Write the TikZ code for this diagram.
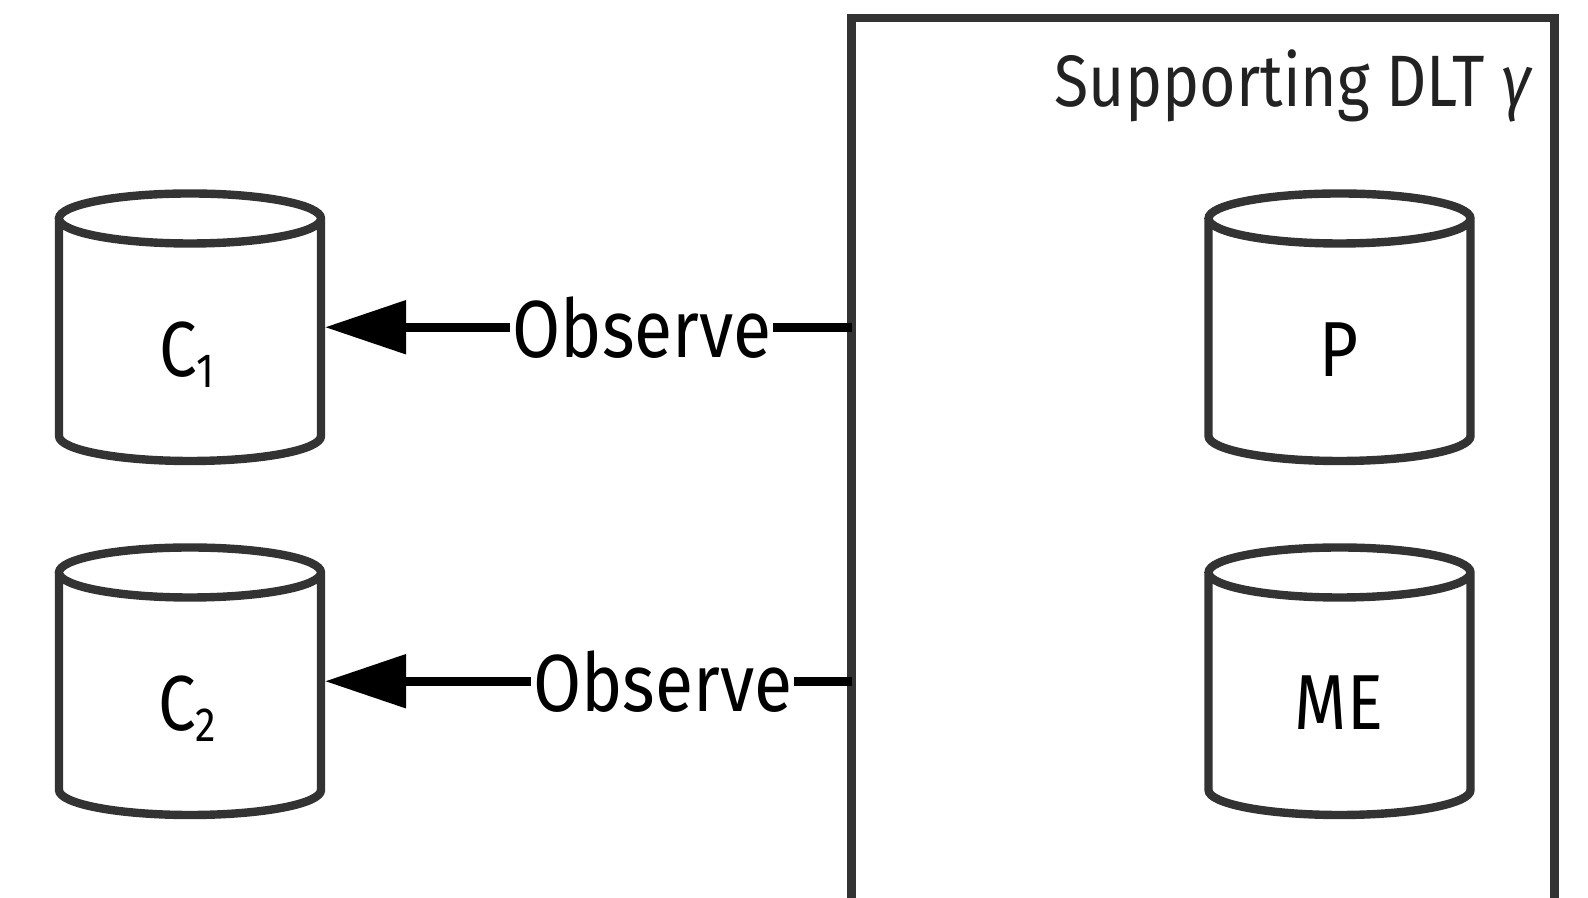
\documentclass[tikz,border=0pt]{standalone}
\usepackage{fontspec}
\usetikzlibrary{arrows.meta,calc}
\newfontfamily\labelfont{Fira Sans}[FakeStretch=0.86]
\definecolor{strokegray}{HTML}{333333}
\definecolor{inkgray}{HTML}{222222}

\newcommand\dbrx{131}
\newcommand\dbry{25}
% outline of a database cylinder around a named node
\newcommand\drawdb[1]{%
  \draw[dbline] (#1.north west) -- (#1.south west)
    arc[start angle=180,end angle=360,x radius=\dbrx,y radius=\dbry]
    -- (#1.north east)
    arc[start angle=0,end angle=360,x radius=\dbrx,y radius=\dbry];}
\newcommand\sub[1]{\raisebox{-5.5pt}{\fontsize{24}{24}\selectfont #1}}

\begin{document}
\begin{tikzpicture}[x=0.5pt,y=0.5pt,
  dbline/.style={draw=strokegray,line width=4.2pt,fill=white},
  db/.style={rectangle,inner sep=0pt,outer sep=0pt,minimum width=131pt,minimum height=108.75pt},
  dbtext/.style={anchor=base,inner sep=0pt,font=\labelfont\fontsize{39}{44}\selectfont,text=black},
  frame/.style={rectangle,draw=strokegray,line width=4.2pt,inner sep=0pt,outer sep=0pt,
    minimum width=351.5pt,minimum height=470pt},
  title/.style={anchor=base east,inner sep=0pt,font=\labelfont\fontsize{36.4}{40}\selectfont,text=inkgray},
  observe/.style={draw=black,line width=4.3pt,shorten >=2pt,
    -{Triangle[length=40.5pt,width=26pt]}},
  lbl/.style={fill=white,inner sep=1pt,font=\labelfont\fontsize{40.5}{44}\selectfont,text=black}]
\useasboundingbox (0,0) rectangle (1588,898);

% supporting ledger frame, open below the page edge
\node[frame] (dlt) at (1203,410) {};
\node[title] (dlttitle) at (1532,791) {Supporting DLT {\itshape γ}};

% cylinders
\node[db] (c1) at (190,570.75) {};
\node[db] (c2) at (190,216.75) {};
\node[db] (p)  at (1339.5,570.75) {};
\node[db] (me) at (1339.5,216.75) {};
\drawdb{c1}
\drawdb{c2}
\drawdb{p}
\drawdb{me}

\node[dbtext] (c1t) at (187,521) {C\sub{1}};
\node[dbtext] (c2t) at (187,167) {C\sub{2}};
\node[dbtext] (pt)  at (1339,521) {P};
\node[dbtext] (met) at (1339,168) {ME};

% observation connectors
\draw[observe] (c1.east -| dlt.west) -- node[lbl,pos=0.395] (obs1) {Observe} (c1.east);
\draw[observe] (c2.east -| dlt.west) -- node[lbl,pos=0.356] (obs2) {Observe} (c2.east);
\end{tikzpicture}
\end{document}
